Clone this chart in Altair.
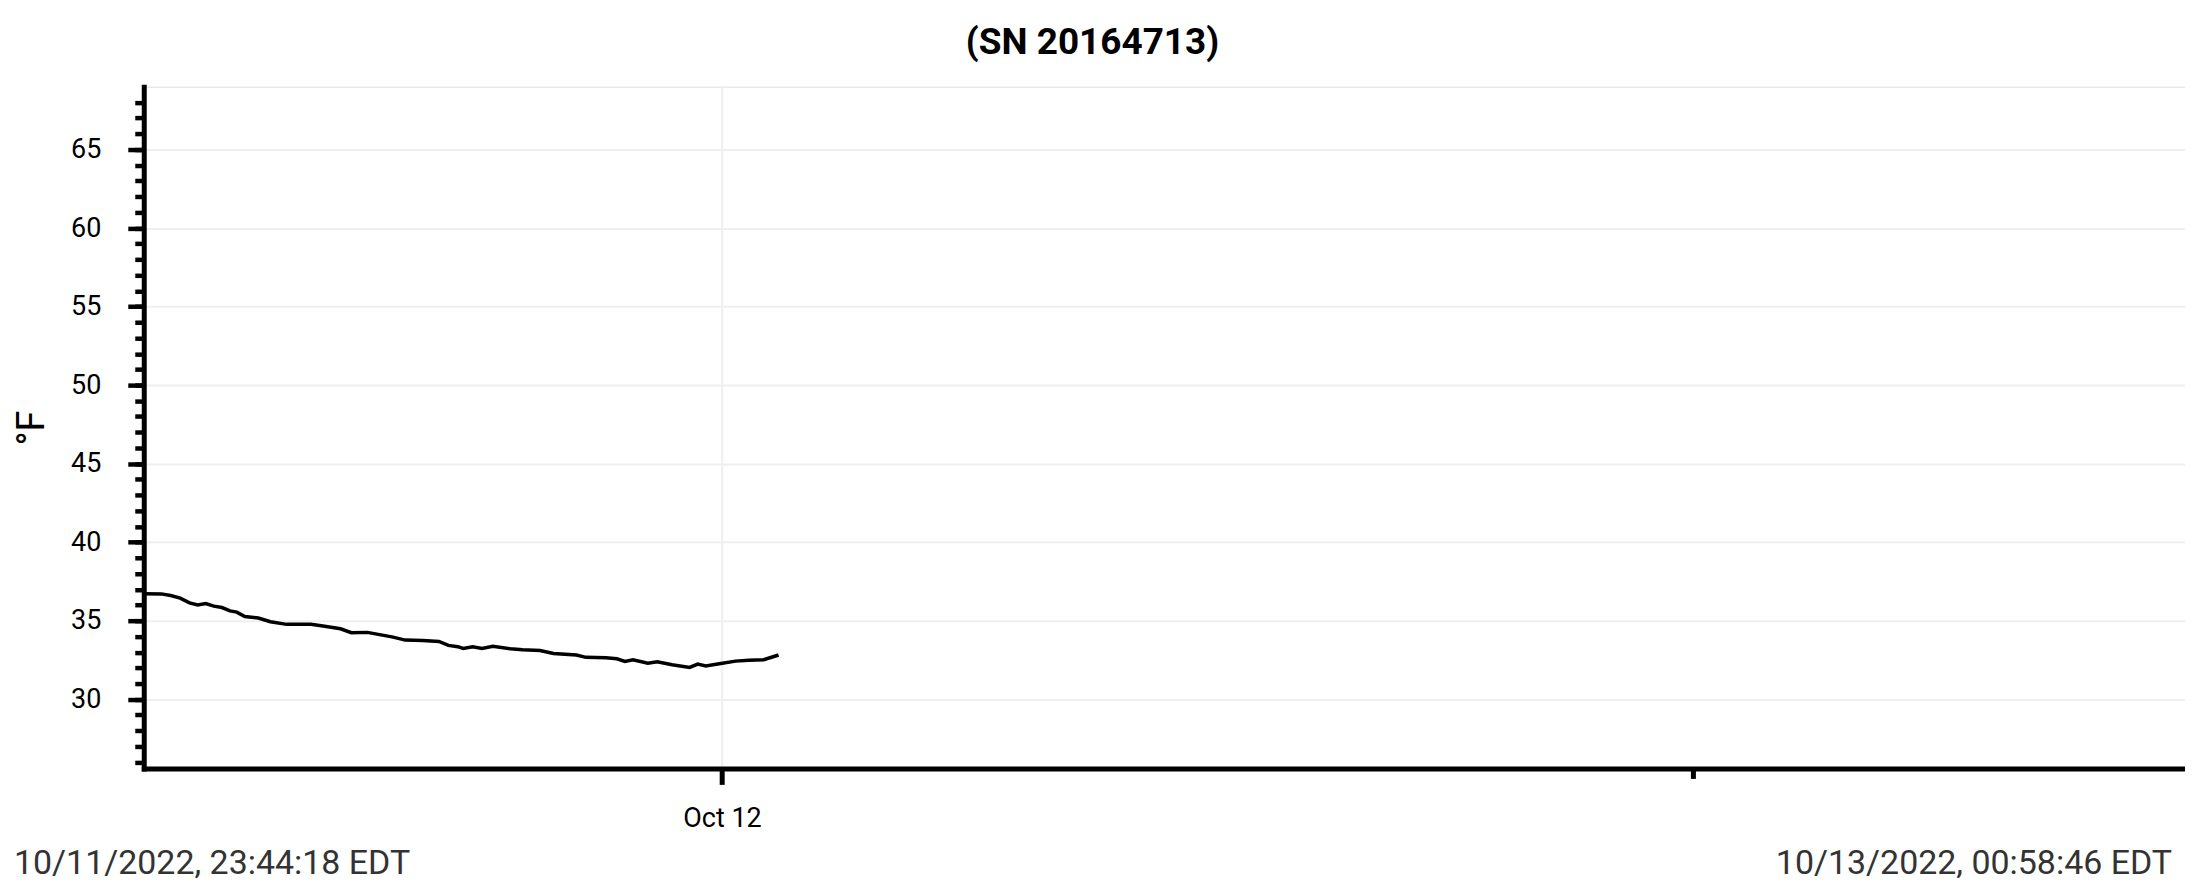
import altair as alt
import pandas as pd

# ---- data ----
times = [
    "2022-10-11T16:51:00Z", "2022-10-11T17:04:00Z", "2022-10-11T17:11:00Z", "2022-10-11T17:18:00Z",
    "2022-10-11T17:25:00Z", "2022-10-11T17:31:00Z", "2022-10-11T17:37:00Z", "2022-10-11T17:43:00Z",
    "2022-10-11T17:49:00Z", "2022-10-11T17:55:00Z", "2022-10-11T18:00:00Z", "2022-10-11T18:06:00Z",
    "2022-10-11T18:16:00Z", "2022-10-11T18:25:00Z", "2022-10-11T18:37:00Z", "2022-10-11T18:55:00Z",
    "2022-10-11T19:04:00Z", "2022-10-11T19:17:00Z", "2022-10-11T19:25:00Z", "2022-10-11T19:37:00Z",
    "2022-10-11T19:49:00Z", "2022-10-11T19:56:00Z", "2022-10-11T20:05:00Z", "2022-10-11T20:18:00Z",
    "2022-10-11T20:30:00Z", "2022-10-11T20:37:00Z", "2022-10-11T20:44:00Z", "2022-10-11T20:48:00Z",
    "2022-10-11T20:55:00Z", "2022-10-11T21:02:00Z", "2022-10-11T21:10:00Z", "2022-10-11T21:23:00Z",
    "2022-10-11T21:32:00Z", "2022-10-11T21:45:00Z", "2022-10-11T21:55:00Z", "2022-10-11T22:12:00Z",
    "2022-10-11T22:19:00Z", "2022-10-11T22:34:00Z", "2022-10-11T22:42:00Z", "2022-10-11T22:48:00Z",
    "2022-10-11T22:54:00Z", "2022-10-11T23:05:00Z", "2022-10-11T23:12:00Z", "2022-10-11T23:23:00Z",
    "2022-10-11T23:36:00Z", "2022-10-11T23:42:00Z", "2022-10-11T23:48:00Z", "2022-10-11T23:58:00Z",
    "2022-10-12T00:10:00Z", "2022-10-12T00:20:00Z", "2022-10-12T00:31:00Z", "2022-10-12T00:42:00Z",
]
temps_f = [
    36.72, 36.71, 36.61, 36.44, 36.14, 36.01, 36.10, 35.93,
    35.84, 35.63, 35.55, 35.27, 35.17, 34.94, 34.77, 34.77,
    34.66, 34.49, 34.24, 34.26, 34.07, 33.96, 33.77, 33.75,
    33.68, 33.43, 33.35, 33.24, 33.35, 33.24, 33.37, 33.22,
    33.16, 33.11, 32.92, 32.82, 32.67, 32.65, 32.58, 32.41,
    32.52, 32.29, 32.39, 32.20, 32.03, 32.24, 32.12, 32.26,
    32.43, 32.48, 32.52, 32.82,
]
y_major = [30, 35, 40, 45, 50, 55, 60, 65]
y_minor = list(range(26, 69))
y_domain = [25.6, 69.0]
title_text = "(SN 20164713)"
y_title = "°F"
footer_left = "10/11/2022, 23:44:18 EDT"
footer_right = "10/13/2022, 00:58:46 EDT"

x_start = alt.DateTime(year=2022, month=10, date=11, hours=16, minutes=51, seconds=0, utc=True)
x_end = alt.DateTime(year=2022, month=10, date=12, hours=18, minutes=5, seconds=28, utc=True)
x_major = [alt.DateTime(year=2022, month=10, date=12, hours=0, utc=True)]
x_minor = [alt.DateTime(year=2022, month=10, date=12, hours=12, utc=True)]

df = pd.DataFrame({"time": times, "temp": temps_f})

W, H = 2045, 683
FONT = "Roboto"

xscale = alt.Scale(type="utc", domain=[x_start, x_end], nice=False)
yscale = alt.Scale(domain=y_domain, nice=False, zero=False)

base = alt.Chart(df)

main = base.mark_line(color="black", strokeWidth=3.5).encode(
    x=alt.X("time:T", scale=xscale,
            axis=alt.Axis(orient="bottom", title=None, values=x_major,
                          labelExpr="utcFormat(datum.value, '%b %d')",
                          labelFont=FONT, labelFontSize=27, labelColor="black",
                          labelPadding=21, tickSize=16, tickWidth=5, tickColor="black",
                          domainColor="black", domainWidth=5, domainCap="square",
                          grid=True, gridColor="#efefef", gridWidth=2)),
    y=alt.Y("temp:Q", scale=yscale,
            axis=alt.Axis(orient="left", values=y_major, title=y_title,
                          titleFont=FONT, titleFontSize=38, titleFontWeight="normal",
                          titleColor="black", titleX=-111, titleY=H / 2,
                          titleBaseline="middle", titleAngle=-90,
                          labelFont=FONT, labelFontSize=27, labelColor="black",
                          labelPadding=27, tickSize=16, tickWidth=4.5, tickColor="black",
                          domainColor="black", domainWidth=5, domainCap="square",
                          grid=True, gridColor="#efefef", gridWidth=2)),
)

minor = base.mark_line(opacity=0).encode(
    x=alt.X("time:T", scale=xscale,
            axis=alt.Axis(orient="bottom", title=None, values=x_minor, labels=False,
                          domain=False, grid=False, tickSize=10, tickWidth=5,
                          tickColor="black")),
    y=alt.Y("temp:Q", scale=yscale,
            axis=alt.Axis(orient="left", title=None, values=y_minor, labels=False,
                          domain=False, grid=False, tickSize=9, tickWidth=4.5,
                          tickColor="black")),
)

fl = alt.Chart(pd.DataFrame({"t": [footer_left]})).mark_text(
    font=FONT, fontSize=34, color="#333333", align="left", baseline="alphabetic"
).encode(text="t:N", x=alt.value(-130), y=alt.value(789))

fr = alt.Chart(pd.DataFrame({"t": [footer_right]})).mark_text(
    font=FONT, fontSize=34, color="#333333", align="right", baseline="alphabetic"
).encode(text="t:N", x=alt.value(2032), y=alt.value(789))

chart = alt.layer(main, minor, fl, fr).resolve_axis(
    x="independent", y="independent"
).properties(
    width=W, height=H,
    autosize=alt.AutoSizeParams(type="none"),
    padding={"left": 136, "top": 78, "right": 0, "bottom": 118},
    title=alt.TitleParams(text=title_text, font=FONT, fontSize=37, fontWeight="bold",
                          color="black", anchor="middle", frame="group", dx=-72,
                          dy=33, offset=29, baseline="alphabetic"),
).configure_view(stroke=None).configure(background="white")

chart.save("out.html", embed_options={"renderer": "svg", "actions": False})
